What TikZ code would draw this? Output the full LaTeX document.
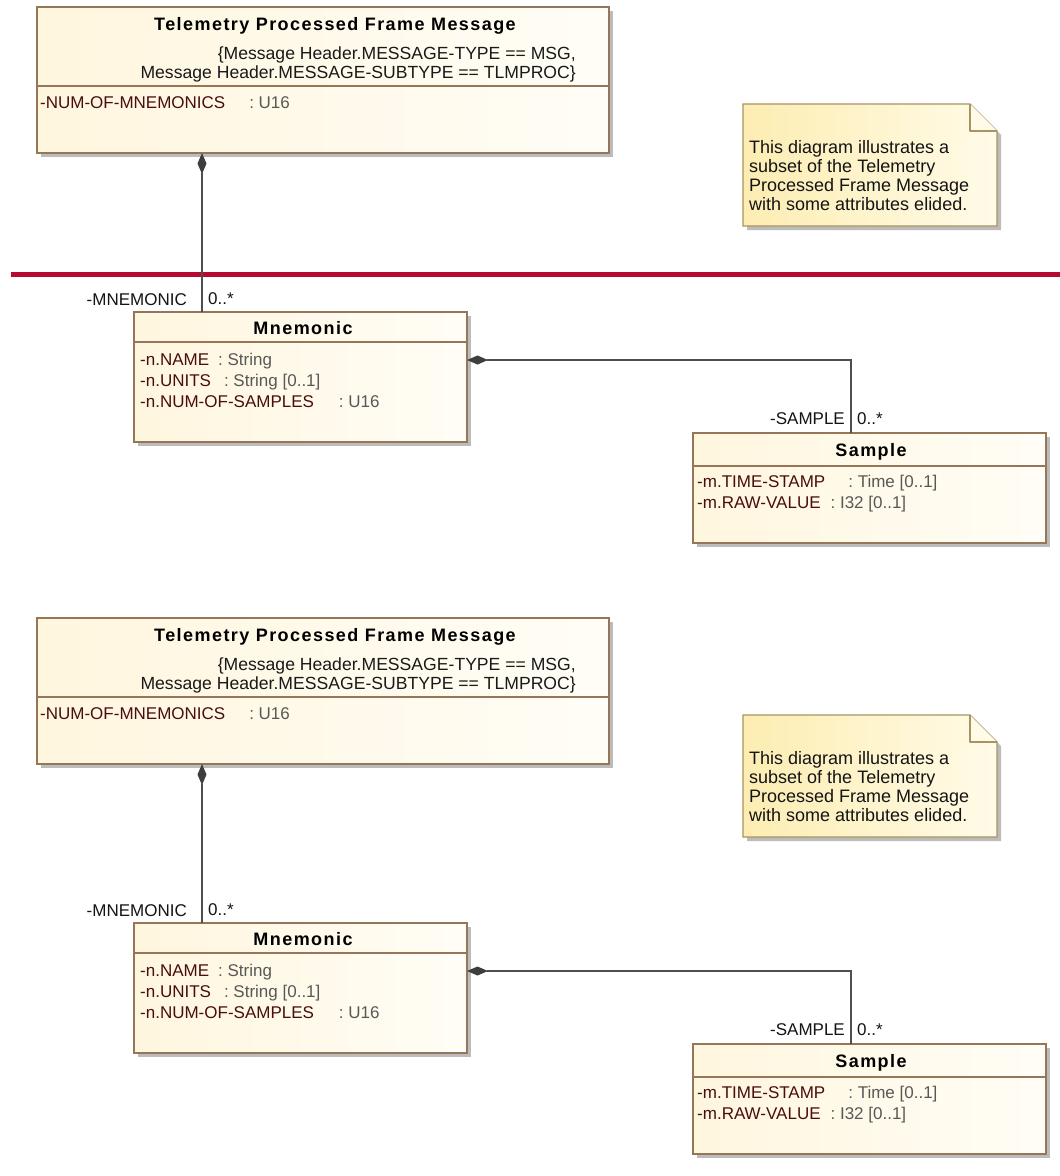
\documentclass[tikz,border=0pt]{standalone}
\usepackage{fontspec}
\setmainfont{Liberation Sans}
\newfontfamily\spacedbold{Liberation Sans}[LetterSpace=8]
\usetikzlibrary{arrows.meta,shadows}

\definecolor{boxfill}{RGB}{255,246,222}
\definecolor{boxfillhi}{RGB}{255,253,246}
\definecolor{boxline}{RGB}{150,118,88}
\definecolor{notefill}{RGB}{253,237,178}
\definecolor{notefillhi}{RGB}{255,251,232}
\definecolor{noteline}{RGB}{168,148,98}
\definecolor{shadowc}{RGB}{188,188,188}
\definecolor{attrname}{RGB}{72,14,14}
\definecolor{attrtype}{RGB}{88,88,88}
\definecolor{wire}{RGB}{78,78,78}
\definecolor{sepred}{RGB}{183,10,48}

\newcommand\aname[1]{\textcolor{attrname}{#1}}
\newcommand\atype[1]{\textcolor{attrtype}{#1}}

\tikzset{
  umlbox/.style={draw=boxline, line width=1.2pt, left color=boxfill, right color=boxfillhi,
    inner sep=0pt, outer sep=0pt, anchor=north west,
    drop shadow={shadow xshift=4pt, shadow yshift=-4pt, fill=shadowc, opacity=1}},
  divider/.style={draw=boxline, line width=1.2pt},
  titletext/.style={inner sep=0pt, anchor=base, text=black,
    font=\spacedbold\bfseries\fontsize{18pt}{21pt}\selectfont},
  plain/.style={inner sep=0pt, text=black!90, font=\fontsize{17pt}{21pt}\selectfont},
  constraint/.style={plain, anchor=base east, font=\fontsize{17.6pt}{21pt}\selectfont},
  attr/.style={plain, anchor=base west},
  rolelabel/.style={plain, text=black!92},
  comp/.style={draw=wire, line width=1.4pt,
    {Diamond[length=21pt,width=9pt,fill=wire!80!black,line width=0pt]}-},
  notetext/.style={inner sep=0pt, anchor=north west, align=left, text=black!92,
    font=\fontsize{18pt}{19pt}\selectfont},
}

\begin{document}
\begin{tikzpicture}[x=1pt,y=-1pt]
\useasboundingbox (0,0) rectangle (1060,1176);
\fill[white] (0,0) rectangle (1060,1176);

% red separator between the two views
\draw[sepred, line width=5pt] (11,274) -- (1060,274);

\foreach \p/\dy in {a/0,b/611}{
  % Telemetry Processed Frame Message class
  \node[umlbox, minimum width=572pt, minimum height=146pt] (\p tlm) at (37,7+\dy) {};
  \draw[divider] (\p tlm.west |- 0,86+\dy) -- (\p tlm.east |- 0,86+\dy);
  \node[titletext] (\p tlmtitle) at (335,30+\dy) {Telemetry Processed Frame Message};
  \node[constraint] (\p tlmconsA) at (576,59+\dy) {\{Message Header.MESSAGE-TYPE == MSG,};
  \node[constraint] (\p tlmconsB) at (576,78+\dy) {Message Header.MESSAGE-SUBTYPE == TLMPROC\}};
  \node[attr] (\p tlmattr) at (40,108+\dy) {\aname{-NUM-OF-MNEMONICS}\hspace{24pt}\atype{: U16}};

  % Mnemonic class
  \node[umlbox, minimum width=333pt, minimum height=130pt] (\p mn) at (134,312+\dy) {};
  \draw[divider] (\p mn.west |- 0,342+\dy) -- (\p mn.east |- 0,342+\dy);
  \node[titletext] (\p mntitle) at (303,334+\dy) {Mnemonic};
  \node[attr] (\p mnA) at (140,365+\dy) {\aname{-n.NAME}\hspace{9pt}\atype{: String}};
  \node[attr] (\p mnB) at (140,386+\dy) {\aname{-n.UNITS}\hspace{13pt}\atype{: String [0..1]}};
  \node[attr] (\p mnC) at (140,407+\dy) {\aname{-n.NUM-OF-SAMPLES}\hspace{25pt}\atype{: U16}};

  % Sample class
  \node[umlbox, minimum width=353pt, minimum height=110pt] (\p smp) at (693,433+\dy) {};
  \draw[divider] (\p smp.west |- 0,466+\dy) -- (\p smp.east |- 0,466+\dy);
  \node[titletext] (\p smptitle) at (871,456+\dy) {Sample};
  \node[attr] (\p smpA) at (697,487+\dy) {\aname{-m.TIME-STAMP}\hspace{23pt}\atype{: Time [0..1]}};
  \node[attr] (\p smpB) at (697,508+\dy) {\aname{-m.RAW-VALUE}\hspace{10pt}\atype{: I32 [0..1]}};

  % compositions
  \draw[comp] (\p tlm.south -| 202,0) -- (\p mn.north -| 202,0);
  \node[rolelabel, anchor=base east] (\p roleM) at (187,305+\dy) {-MNEMONIC};
  \node[rolelabel, anchor=base west] (\p multM) at (208,304+\dy) {0..*};
  \draw[comp] (\p mn.east |- 0,360+\dy) -| (\p smp.north -| 851,0);
  \node[rolelabel, anchor=base east] (\p roleS) at (845,424+\dy) {-SAMPLE};
  \node[rolelabel, anchor=base west] (\p multS) at (857,424+\dy) {0..*};

  % comment note with folded corner
  \fill[shadowc] (747,108+\dy) -- (974,108+\dy) -- (1001,135+\dy) -- (1001,230+\dy) -- (747,230+\dy) -- cycle;
  \path[draw=noteline, line width=1.2pt, left color=notefill, right color=notefillhi]
    (743,104+\dy) -- (970,104+\dy) -- (997,131+\dy) -- (997,226+\dy) -- (743,226+\dy) -- cycle;
  \draw[noteline, line width=1.2pt, fill=notefillhi, line join=round]
    (970,104+\dy) -- (970,131+\dy) -- (997,131+\dy);
  \node[notetext] (\p note) at (749,140+\dy)
    {This diagram illustrates a\\subset of the Telemetry\\Processed Frame Message\\with some attributes elided.};
}
\end{tikzpicture}
\end{document}
